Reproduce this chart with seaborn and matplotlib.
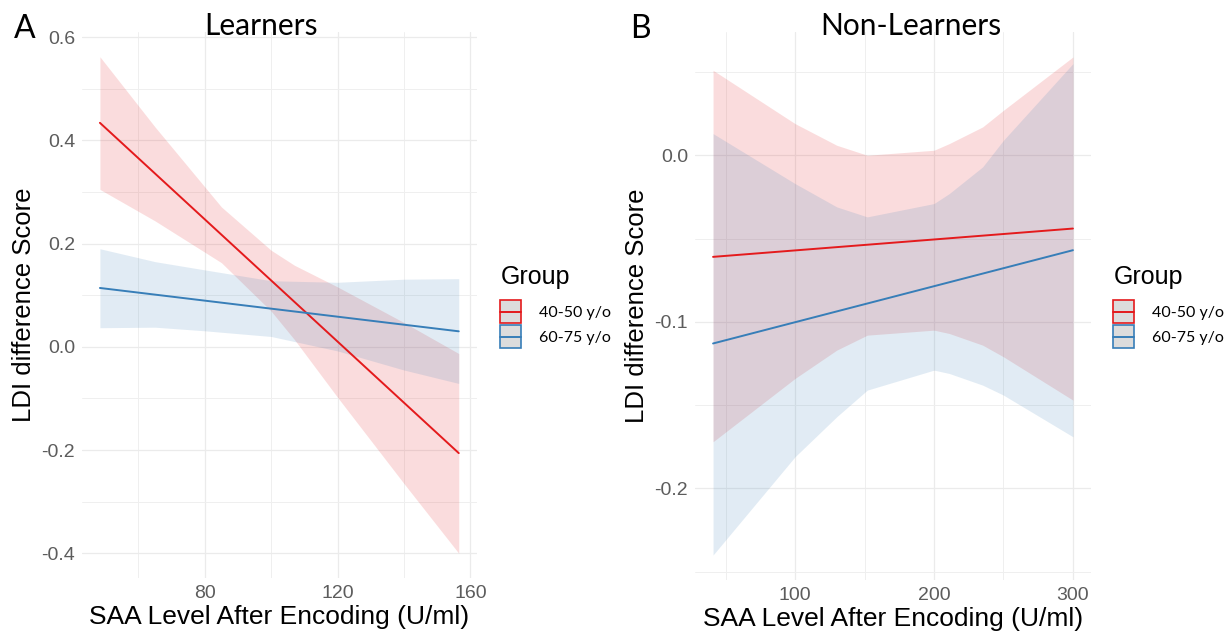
import pandas as pd
import seaborn as sns
import matplotlib.pyplot as plt
from matplotlib.patches import Rectangle
from matplotlib.lines import Line2D
from matplotlib.legend_handler import HandlerBase

groups = ['40-50 y/o', '60-75 y/o']
colors = ['#E41A1C', '#377EB8']

# Learners (panel A) - fitted lines (end points) and 95% CI bands
learn_line_x = [48.4, 156.5]
learn_fit_young = [0.434, -0.206]
learn_fit_old = [0.114, 0.030]

learn_x_young = [48.4, 65, 85, 100, 107, 120, 140, 156.5]
learn_lo_young = [0.305, 0.244, 0.163, 0.069, 0.014, -0.098, -0.265, -0.400]
learn_hi_young = [0.562, 0.426, 0.271, 0.187, 0.158, 0.116, 0.047, -0.013]

learn_x_old = [48.4, 65, 80, 100, 120, 140, 156.5]
learn_lo_old = [0.037, 0.038, 0.031, 0.020, -0.008, -0.045, -0.071]
learn_hi_old = [0.190, 0.165, 0.149, 0.128, 0.125, 0.131, 0.132]

# Non-Learners (panel B)
nonlearn_line_x = [41, 300]
nonlearn_fit_young = [-0.061, -0.044]
nonlearn_fit_old = [-0.113, -0.057]

nonlearn_x = [41, 100, 130, 152, 200, 211, 235, 250, 300]
nonlearn_lo_young = [-0.172, -0.134, -0.117, -0.108, -0.105, -0.107, -0.114, -0.121, -0.147]
nonlearn_hi_young = [0.051, 0.019, 0.006, 0.000, 0.003, 0.007, 0.017, 0.027, 0.059]
nonlearn_lo_old = [-0.240, -0.181, -0.157, -0.141, -0.129, -0.131, -0.138, -0.144, -0.169]
nonlearn_hi_old = [0.013, -0.017, -0.031, -0.037, -0.029, -0.023, -0.007, 0.009, 0.055]

# axis ticks
learn_xticks = [80, 120, 160]
learn_xminor = [60, 100, 140]
learn_yticks = [-0.4, -0.2, 0.0, 0.2, 0.4, 0.6]
learn_ylabels = ['-0.4', '-0.2', '0.0', '0.2', '0.4', '0.6']
learn_yminor = [-0.3, -0.1, 0.1, 0.3, 0.5]

nonlearn_xticks = [100, 200, 300]
nonlearn_xminor = [50, 150, 250]
nonlearn_yticks = [-0.2, -0.1, 0.0]
nonlearn_ylabels = ['-0.2', '-0.1', '0.0']
nonlearn_yminor = [-0.25, -0.15, -0.05, 0.05]


def line_df(x, fy, fo):
    d1 = pd.DataFrame({'SAA': x, 'LDI': fy, 'Group': groups[0]})
    d2 = pd.DataFrame({'SAA': x, 'LDI': fo, 'Group': groups[1]})
    return pd.concat([d1, d2], ignore_index=True)


def band_df(xy, ly, hy, xo, lo, ho):
    d1 = pd.DataFrame({'SAA': xy, 'lo': ly, 'hi': hy, 'Group': groups[0]})
    d2 = pd.DataFrame({'SAA': xo, 'lo': lo, 'hi': ho, 'Group': groups[1]})
    return pd.concat([d1, d2], ignore_index=True)


def plot_panel(ax, lines, bands, xt, xm, yt, yl, ym, xlim, ylim):
    for g, c in zip(groups, colors):
        sub = bands[bands['Group'] == g]
        ax.fill_between(sub['SAA'], sub['lo'], sub['hi'], color=c, alpha=0.15, linewidth=0)
    sns.lineplot(data=lines, x='SAA', y='LDI', hue='Group', palette=colors,
                 ax=ax, legend=False, linewidth=1.4)
    ax.set_xlim(xlim)
    ax.set_ylim(ylim)
    ax.set_xticks(xt)
    ax.set_xticks(xm, minor=True)
    ax.set_yticks(yt)
    ax.set_yticklabels(yl)
    ax.set_yticks(ym, minor=True)
    ax.grid(which='major', color='#EBEBEB', linewidth=0.9)
    ax.grid(which='minor', color='#EFEFEF', linewidth=0.7)
    ax.tick_params(which='both', length=0, labelsize=14, labelcolor='#5c5c5c')
    ax.tick_params(axis='x', pad=5)
    ax.tick_params(axis='y', pad=5)
    for s in ax.spines.values():
        s.set_visible(False)
    ax.set_facecolor('white')
    ax.set_xlabel('SAA Level After Encoding (U/ml)', fontsize=19, color='black')
    ax.set_ylabel('LDI difference Score', fontsize=18.5, color='black')
    ax.xaxis.set_label_coords(0.5, -0.05)
    ax.yaxis.set_label_coords(-0.146, 0.5)
    ax.yaxis.label.set_verticalalignment('center')


# ggplot-like key: grey box with coloured border and a line through the middle
class KeyHandler(HandlerBase):
    def create_artists(self, legend, orig_handle, xdescent, ydescent,
                       width, height, fontsize, trans):
        c = orig_handle.get_color()
        yc = height / 2 - ydescent
        box = Rectangle((-xdescent, yc - 8.25), width, 16.5, facecolor='#DCDCDC',
                        edgecolor=c, linewidth=1.2, transform=trans)
        ln = Line2D([-xdescent, -xdescent + width], [yc, yc], color=c,
                    linewidth=1.4, transform=trans)
        return [box, ln]


sns.set_theme(style='whitegrid')
plt.rcParams['font.family'] = ['Liberation Sans', 'DejaVu Sans']
plt.rcParams['axes.unicode_minus'] = False
plt.rcParams['text.color'] = 'black'

fig = plt.figure(figsize=(12.31, 6.33), dpi=100)
fig.patch.set_facecolor('white')
W, H = 1231, 633
ax1 = fig.add_axes([82 / W, 1 - 578 / H, 395 / W, 546 / H])
ax2 = fig.add_axes([695 / W, 1 - 580 / H, 396 / W, 548 / H])

plot_panel(ax1, line_df(learn_line_x, learn_fit_young, learn_fit_old),
           band_df(learn_x_young, learn_lo_young, learn_hi_young,
                   learn_x_old, learn_lo_old, learn_hi_old),
           learn_xticks, learn_xminor, learn_yticks, learn_ylabels,
           learn_yminor, (43, 162), (-0.448, 0.610))
plot_panel(ax2, line_df(nonlearn_line_x, nonlearn_fit_young, nonlearn_fit_old),
           band_df(nonlearn_x, nonlearn_lo_young, nonlearn_hi_young,
                   nonlearn_x, nonlearn_lo_old, nonlearn_hi_old),
           nonlearn_xticks, nonlearn_xminor, nonlearn_yticks,
           nonlearn_ylabels, nonlearn_yminor, (28, 313), (-0.255, 0.074))

# panel titles and letters
fig.text(261 / W, 1 - 35 / H, 'Learners', fontsize=21.5, family='Lato', ha='center', va='baseline')
fig.text(911 / W, 1 - 35 / H, 'Non-Learners', fontsize=21.5, family='Lato', ha='center', va='baseline')
fig.text(25 / W, 1 - 29 / H, 'A', fontsize=23, family='Lato', ha='center', va='center')
fig.text(640 / W, 1 - 29 / H, 'B', fontsize=23, family='Lato', ha='center', va='center')

# legends (title drawn as text, keys as legend)
for left in [500, 1113]:
    fig.text((left + 1) / W, 1 - 284 / H, 'Group', fontsize=18, ha='left', va='baseline')
    handles = [Line2D([], [], color=c) for c in colors]
    fig.legend(handles, groups, loc='upper left',
               bbox_to_anchor=(left / W, 1 - 299 / H), frameon=False,
               handler_map={Line2D: KeyHandler()},
               prop={'family': 'Lato', 'size': 11.5},
               handlelength=1.31, handleheight=2.06, labelspacing=0,
               handletextpad=1.13, borderpad=0, borderaxespad=0)

fig.savefig('out.png', dpi=100, facecolor='white')
